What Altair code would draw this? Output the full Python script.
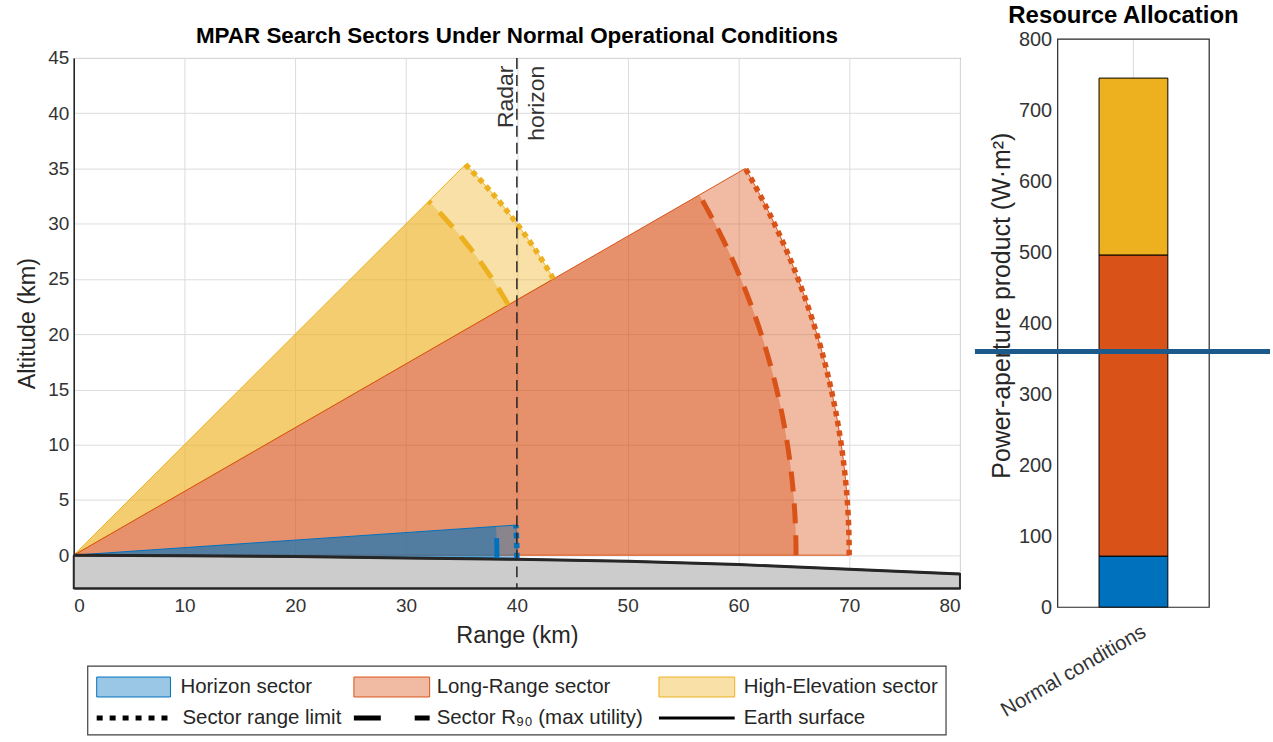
import math
import numpy as np
import pandas as pd
import altair as alt

# ---------------- data ----------------
sector_names = ["Horizon sector", "Long-Range sector", "High-Elevation sector"]
sector_colors = ["#0072BD", "#D95319", "#EDB120"]
sector_elev_low = [-0.4, 0.0, 30.0]      # degrees
sector_elev_high = [3.9, 30.0, 45.0]     # degrees
sector_range_limit = [40.0, 70.0, 50.0]  # km
sector_r90 = [38.2, 65.2, 45.3]          # km

earth_range = [0, 10, 20, 30, 40, 50, 60, 70, 80]
earth_alt = [0.0, -0.05, -0.12, -0.25, -0.38, -0.55, -0.85, -1.27, -1.7]

radar_horizon_km = 40.0
radar_label_lines = ["Radar", "horizon"]

bar_category = "Normal conditions"
bar_values = [72, 424, 249]
annotation_level = [360]

legend_row1 = ["Horizon sector", "Long-Range sector", "High-Elevation sector"]
legend_row2 = ["Sector range limit", "Sector R\u2089\u2080 (max utility)", "Earth surface"]

# ---------------- helpers ----------------
FONT = "Liberation Sans"
DARK = "#262626"
GRID = "#DCDCDC"
W_L, H_L = 889, 532
W_R, H_R = 152, 551
R_TOP_SHIFT = 19   # right axes start this many pixels above the left axes

xs = alt.Scale(domain=[0, 80], nice=False, zero=False)
ys = alt.Scale(domain=[-3, 45], nice=False, zero=False)
xaxis = alt.Axis(values=list(range(0, 81, 10)), title="Range (km)", grid=True,
                 labelPadding=8, titlePadding=8)
yaxis = alt.Axis(values=list(range(0, 46, 5)), title="Altitude (km)", grid=True,
                 labelPadding=5, titlePadding=8)


def enc():
    return dict(x=alt.X("x:Q", scale=xs, axis=xaxis), y=alt.Y("y:Q", scale=ys, axis=yaxis))


def arc_points(lo, hi, r, n=60):
    a = np.radians(np.linspace(lo, hi, n))
    return list(r * np.cos(a)), list(r * np.sin(a))


def sector_df(lo, hi, r):
    ax, ay = arc_points(lo, hi, r)
    x = [0.0] + ax + [0.0]
    y = [0.0] + ay + [0.0]
    return pd.DataFrame({"i": range(len(x)), "x": x, "y": y})


def arc_df(lo, hi, r):
    ax, ay = arc_points(lo, hi, r)
    return pd.DataFrame({"i": range(len(ax)), "x": ax, "y": ay})


one = pd.DataFrame({"a": [0]})
layers = []

# sectors (yellow, orange, blue)
for k in [2, 1, 0]:
    c = sector_colors[k]
    lo, hi = sector_elev_low[k], sector_elev_high[k]
    layers.append(alt.Chart(sector_df(lo, hi, sector_range_limit[k])).mark_line(
        fill=c, fillOpacity=0.4, stroke=c, strokeWidth=1, interpolate="linear"
    ).encode(order="i:Q", **enc()))
    layers.append(alt.Chart(sector_df(lo, hi, sector_r90[k])).mark_line(
        fill=c, fillOpacity=0.4, stroke=c, strokeOpacity=0, interpolate="linear"
    ).encode(order="i:Q", **enc()))

# ground
gx = earth_range + [80, 0, 0]
gy = earth_alt + [-3, -3, 0]
ground = pd.DataFrame({"i": range(len(gx)), "x": gx, "y": gy})
layers.append(alt.Chart(ground).mark_line(
    fill="#CCCCCC", stroke=DARK, strokeWidth=2).encode(order="i:Q", **enc()))
earth = pd.DataFrame({"i": range(len(earth_range)), "x": earth_range, "y": earth_alt})
layers.append(alt.Chart(earth).mark_line(color=DARK, strokeWidth=3).encode(order="i:Q", **enc()))

# R90 dashed and range-limit dotted arcs
for k in [2, 1, 0]:
    c = sector_colors[k]
    lo, hi = sector_elev_low[k], sector_elev_high[k]
    layers.append(alt.Chart(arc_df(lo, hi, sector_r90[k])).mark_line(
        color=c, strokeWidth=5, strokeDash=[20, 12], strokeCap="butt"
    ).encode(order="i:Q", **enc()))
    layers.append(alt.Chart(arc_df(lo, hi, sector_range_limit[k])).mark_line(
        color=c, strokeWidth=5.5, strokeDash=[5.5, 4.5], strokeCap="butt"
    ).encode(order="i:Q", **enc()))

# radar horizon
layers.append(alt.Chart(pd.DataFrame({"x": [radar_horizon_km]})).mark_rule(
    color=DARK, strokeWidth=1.5, strokeDash=[11, 6]).encode(x=alt.X("x:Q", scale=xs, axis=xaxis)))
rl = pd.DataFrame({"t": radar_label_lines,
                   "x": [radar_horizon_km - 1.0, radar_horizon_km + 1.8],
                   "y": [44.3, 44.3]})
layers.append(alt.Chart(rl).mark_text(
    angle=270, align="right", baseline="middle", fontSize=23, color="#333333", font=FONT
).encode(text="t:N", **enc()))

# ---- legend (drawn below the left axes) ----
LB = dict(x0=14, x1=875, y0=610, y1=679)
layers.append(alt.Chart(one).mark_rect(fill="white", stroke="#404040", strokeWidth=1.2).encode(
    x=alt.value(LB["x0"]), x2=alt.value(LB["x1"]), y=alt.value(LB["y0"]), y2=alt.value(LB["y1"])))
col_sw = [(23, 97), (281, 357), (587, 663)]
col_tx = [107, 364, 672]
r1, r2 = 631, 662
light = ["#99C7E5", "#F0BAA3", "#F8E0A6"]
for j in range(3):
    layers.append(alt.Chart(one).mark_rect(fill=light[j], stroke=sector_colors[j], strokeWidth=1).encode(
        x=alt.value(col_sw[j][0]), x2=alt.value(col_sw[j][1]), y=alt.value(r1 - 10), y2=alt.value(r1 + 10)))
    layers.append(alt.Chart(one).mark_text(align="left", baseline="middle", fontSize=20.5,
                                           color=DARK, font=FONT, text=legend_row1[j]).encode(
        x=alt.value(col_tx[j]), y=alt.value(r1)))
    layers.append(alt.Chart(one).mark_text(align="left", baseline="middle", fontSize=20.5,
                                           color=DARK, font=FONT, text=legend_row2[j]).encode(
        x=alt.value(col_tx[j] + (2 if j == 0 else 0)), y=alt.value(r2)))
line_styles = [dict(strokeWidth=5, strokeDash=[6, 7]),
               dict(strokeWidth=5, strokeDash=[27, 34]),
               dict(strokeWidth=3)]
for j in range(3):
    layers.append(alt.Chart(one).mark_rule(color="black", strokeCap="butt", **line_styles[j]).encode(
        x=alt.value(col_sw[j][0]), x2=alt.value(col_sw[j][1]), y=alt.value(r2)))

left = alt.layer(*layers).properties(
    width=W_L, height=H_L,
    title=alt.TitleParams("MPAR Search Sectors Under Normal Operational Conditions",
                          fontSize=22.5, fontWeight="bold", offset=2, frame="group",
                          color="black", font=FONT))

# ---------------- right bar panel ----------------
yr_scale = alt.Scale(domain=[0, 800], nice=False, range=[H_R, -R_TOP_SHIFT])
bar_df = pd.DataFrame({"cat": [bar_category] * 3, "sector": sector_names,
                       "value": bar_values, "k": [0, 1, 2]})
bars = alt.Chart(bar_df).mark_bar(size=69, stroke="black", strokeWidth=1).encode(
    x=alt.X("cat:N", title=None,
            axis=alt.Axis(labelAngle=330, labelAlign="right", labelBaseline="top",
                          labelPadding=14, labelOffset=6, grid=False, domain=False,
                          labelFontSize=20.5)),
    y=alt.Y("value:Q", stack="zero", scale=yr_scale,
            axis=alt.Axis(values=list(range(0, 801, 100)), title="Power-aperture product (W\u00b7m\u00b2)",
                          labelPadding=6, titlePadding=4, labelFontSize=20, titleFontSize=25,
                          titleY=248, domain=False)),
    color=alt.Color("sector:N", scale=alt.Scale(domain=sector_names, range=sector_colors), legend=None),
    order=alt.Order("k:Q"),
)
vgrid = alt.Chart(one).mark_rule(color=GRID, strokeWidth=1).encode(
    x=alt.value(W_R / 2), y=alt.datum(800, scale=yr_scale), y2=alt.datum(0))
box = alt.Chart(one).mark_rect(fill="transparent", stroke=DARK, strokeWidth=1.2).encode(
    x=alt.value(0), x2=alt.value(W_R), y=alt.datum(800, scale=yr_scale), y2=alt.datum(0))
annot = alt.Chart(pd.DataFrame({"v": annotation_level})).mark_rule(
    color="#1B5A8B", strokeWidth=5).encode(
    y=alt.Y("v:Q", scale=yr_scale),
    x=alt.value(-83), x2=alt.value(213))
right = alt.layer(vgrid, bars, box, annot).properties(
    width=W_R, height=H_R,
    view=alt.ViewConfig(stroke="transparent"),
    title=alt.TitleParams("Resource Allocation", fontSize=24, fontWeight="bold", offset=1, dx=-10,
                          color="black", font=FONT))

chart = alt.hconcat(left, right, spacing=5).properties(
    padding={"left": 15, "top": 2, "right": 0, "bottom": 0}
).configure(font=FONT).configure_view(
    stroke=DARK, strokeWidth=1
).configure_axis(
    labelFont=FONT, titleFont=FONT, labelFontSize=19, titleFontSize=23.5,
    labelColor="#333333", titleColor=DARK, titleFontWeight="normal",
    domainColor=DARK, domainWidth=1.5, ticks=False, gridColor=GRID, gridWidth=1
)

chart.save("out.html", embed_options={"renderer": "svg", "actions": False})
